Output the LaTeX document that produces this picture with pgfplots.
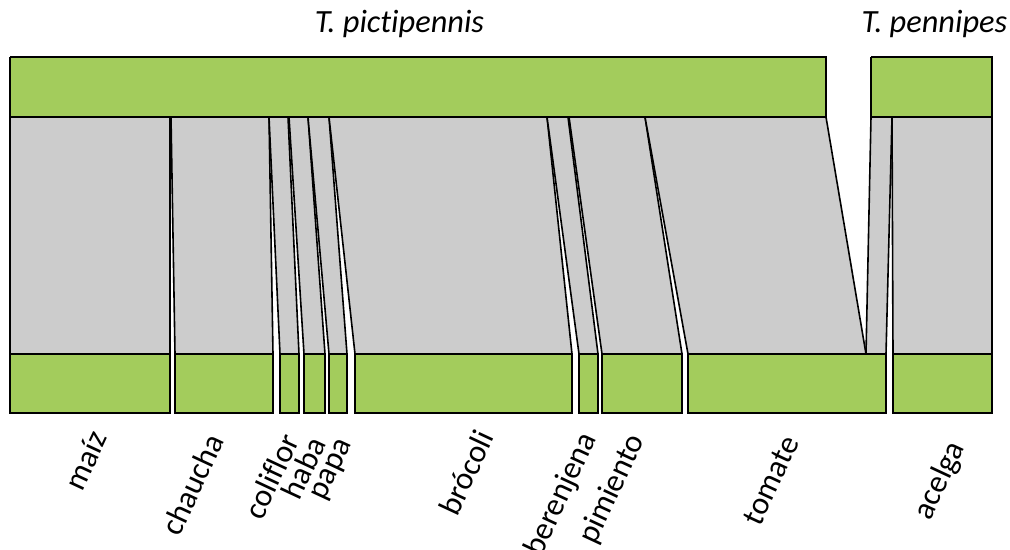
\documentclass[border=0pt]{standalone}
\usepackage{pgfplots}
\pgfplotsset{compat=1.18}
\usepackage{fontspec}
\setmainfont{Carlito}[Ligatures=NoCommon]
\definecolor{barGreen}{RGB}{163,204,92}
\definecolor{linkGray}{RGB}{204,204,204}
\tikzset{
  lowlabel/.style={rotate=65, anchor=base east, inner sep=0pt, font=\fontsize{32}{38}\selectfont},
  toplabel/.style={anchor=base, inner sep=0pt, font=\fontsize{32.5}{38}\selectfont\itshape}
}
\begin{document}
\begin{tikzpicture}
\begin{axis}[name=web, scale only axis, width=1010bp, height=549bp,
  xmin=0, xmax=1010, ymin=0, ymax=549, y dir=reverse,
  hide axis, clip=false,
  weblink/.style={fill=linkGray, draw=black, line width=1.6bp, mark=none, line join=miter},
  webbar/.style={fill=barGreen, draw=black, line width=1.8bp, mark=none, line join=miter}]

% interactions: upper segment (left, right) -> lower segment (left, right)
\addplot[weblink] coordinates {(10,117) (170,117) (170,354) (10,354) (10,117)};   % maíz
\addplot[weblink] coordinates {(171,117) (269,117) (273,354) (175,354) (171,117)}; % chaucha
\addplot[weblink] coordinates {(269,117) (288,117) (299,354) (280,354) (269,117)}; % coliflor
\addplot[weblink] coordinates {(289,117) (308,117) (325,354) (304,354) (289,117)}; % haba
\addplot[weblink] coordinates {(308,117) (329,117) (347,354) (329,354) (308,117)}; % papa
\addplot[weblink] coordinates {(329,117) (547,117) (572,354) (355,354) (329,117)}; % brócoli
\addplot[weblink] coordinates {(547,117) (568,117) (598,354) (579,354) (547,117)}; % berenjena
\addplot[weblink] coordinates {(569,117) (645,117) (682,354) (602,354) (569,117)}; % pimiento
\addplot[weblink] coordinates {(645,117) (826,117) (866,354) (688,354) (645,117)}; % tomate (T. pictipennis)
\addplot[weblink] coordinates {(871,117) (892,117) (886,354) (866,354) (871,117)}; % tomate (T. pennipes)
\addplot[weblink] coordinates {(892,117) (992,117) (992,354) (893,354) (892,117)}; % acelga

% upper level
\addplot[webbar] coordinates {(10,57) (826,57) (826,117) (10,117) (10,57)};
\addplot[webbar] coordinates {(871,57) (992,57) (992,117) (871,117) (871,57)};

% lower level
\addplot[webbar] coordinates {(10,354) (170,354) (170,413) (10,413) (10,354)};
\addplot[webbar] coordinates {(175,354) (273,354) (273,413) (175,413) (175,354)};
\addplot[webbar] coordinates {(280,354) (299,354) (299,413) (280,413) (280,354)};
\addplot[webbar] coordinates {(304,354) (325,354) (325,413) (304,413) (304,354)};
\addplot[webbar] coordinates {(329,354) (347,354) (347,413) (329,413) (329,354)};
\addplot[webbar] coordinates {(355,354) (572,354) (572,413) (355,413) (355,354)};
\addplot[webbar] coordinates {(579,354) (598,354) (598,413) (579,413) (579,354)};
\addplot[webbar] coordinates {(602,354) (682,354) (682,413) (602,413) (602,354)};
\addplot[webbar] coordinates {(688,354) (886,354) (886,413) (688,413) (688,354)};
\addplot[webbar] coordinates {(893,354) (992,354) (992,413) (893,413) (893,354)};

% species names
\node[toplabel] at (399.5,33) {T. pictipennis};
\node[toplabel] at (934.5,33) {T. pennipes};

% plant names
\node[lowlabel] at (108,437) {maíz};
\node[lowlabel] at (225,440) {chaucha};
\node[lowlabel] at (300,440) {coliflor};
\node[lowlabel] at (327,443) {haba};
\node[lowlabel] at (352,443) {papa};
\node[lowlabel] at (495,437) {brócoli};
\node[lowlabel] at (597,438) {berenjena};
\node[lowlabel] at (645,440) {pimiento};
\node[lowlabel] at (800,442) {tomate};
\node[lowlabel] at (965,447) {acelga};
\end{axis}
\pgfresetboundingbox
\path (web.south west) rectangle (web.north east);
\end{tikzpicture}
\end{document}
